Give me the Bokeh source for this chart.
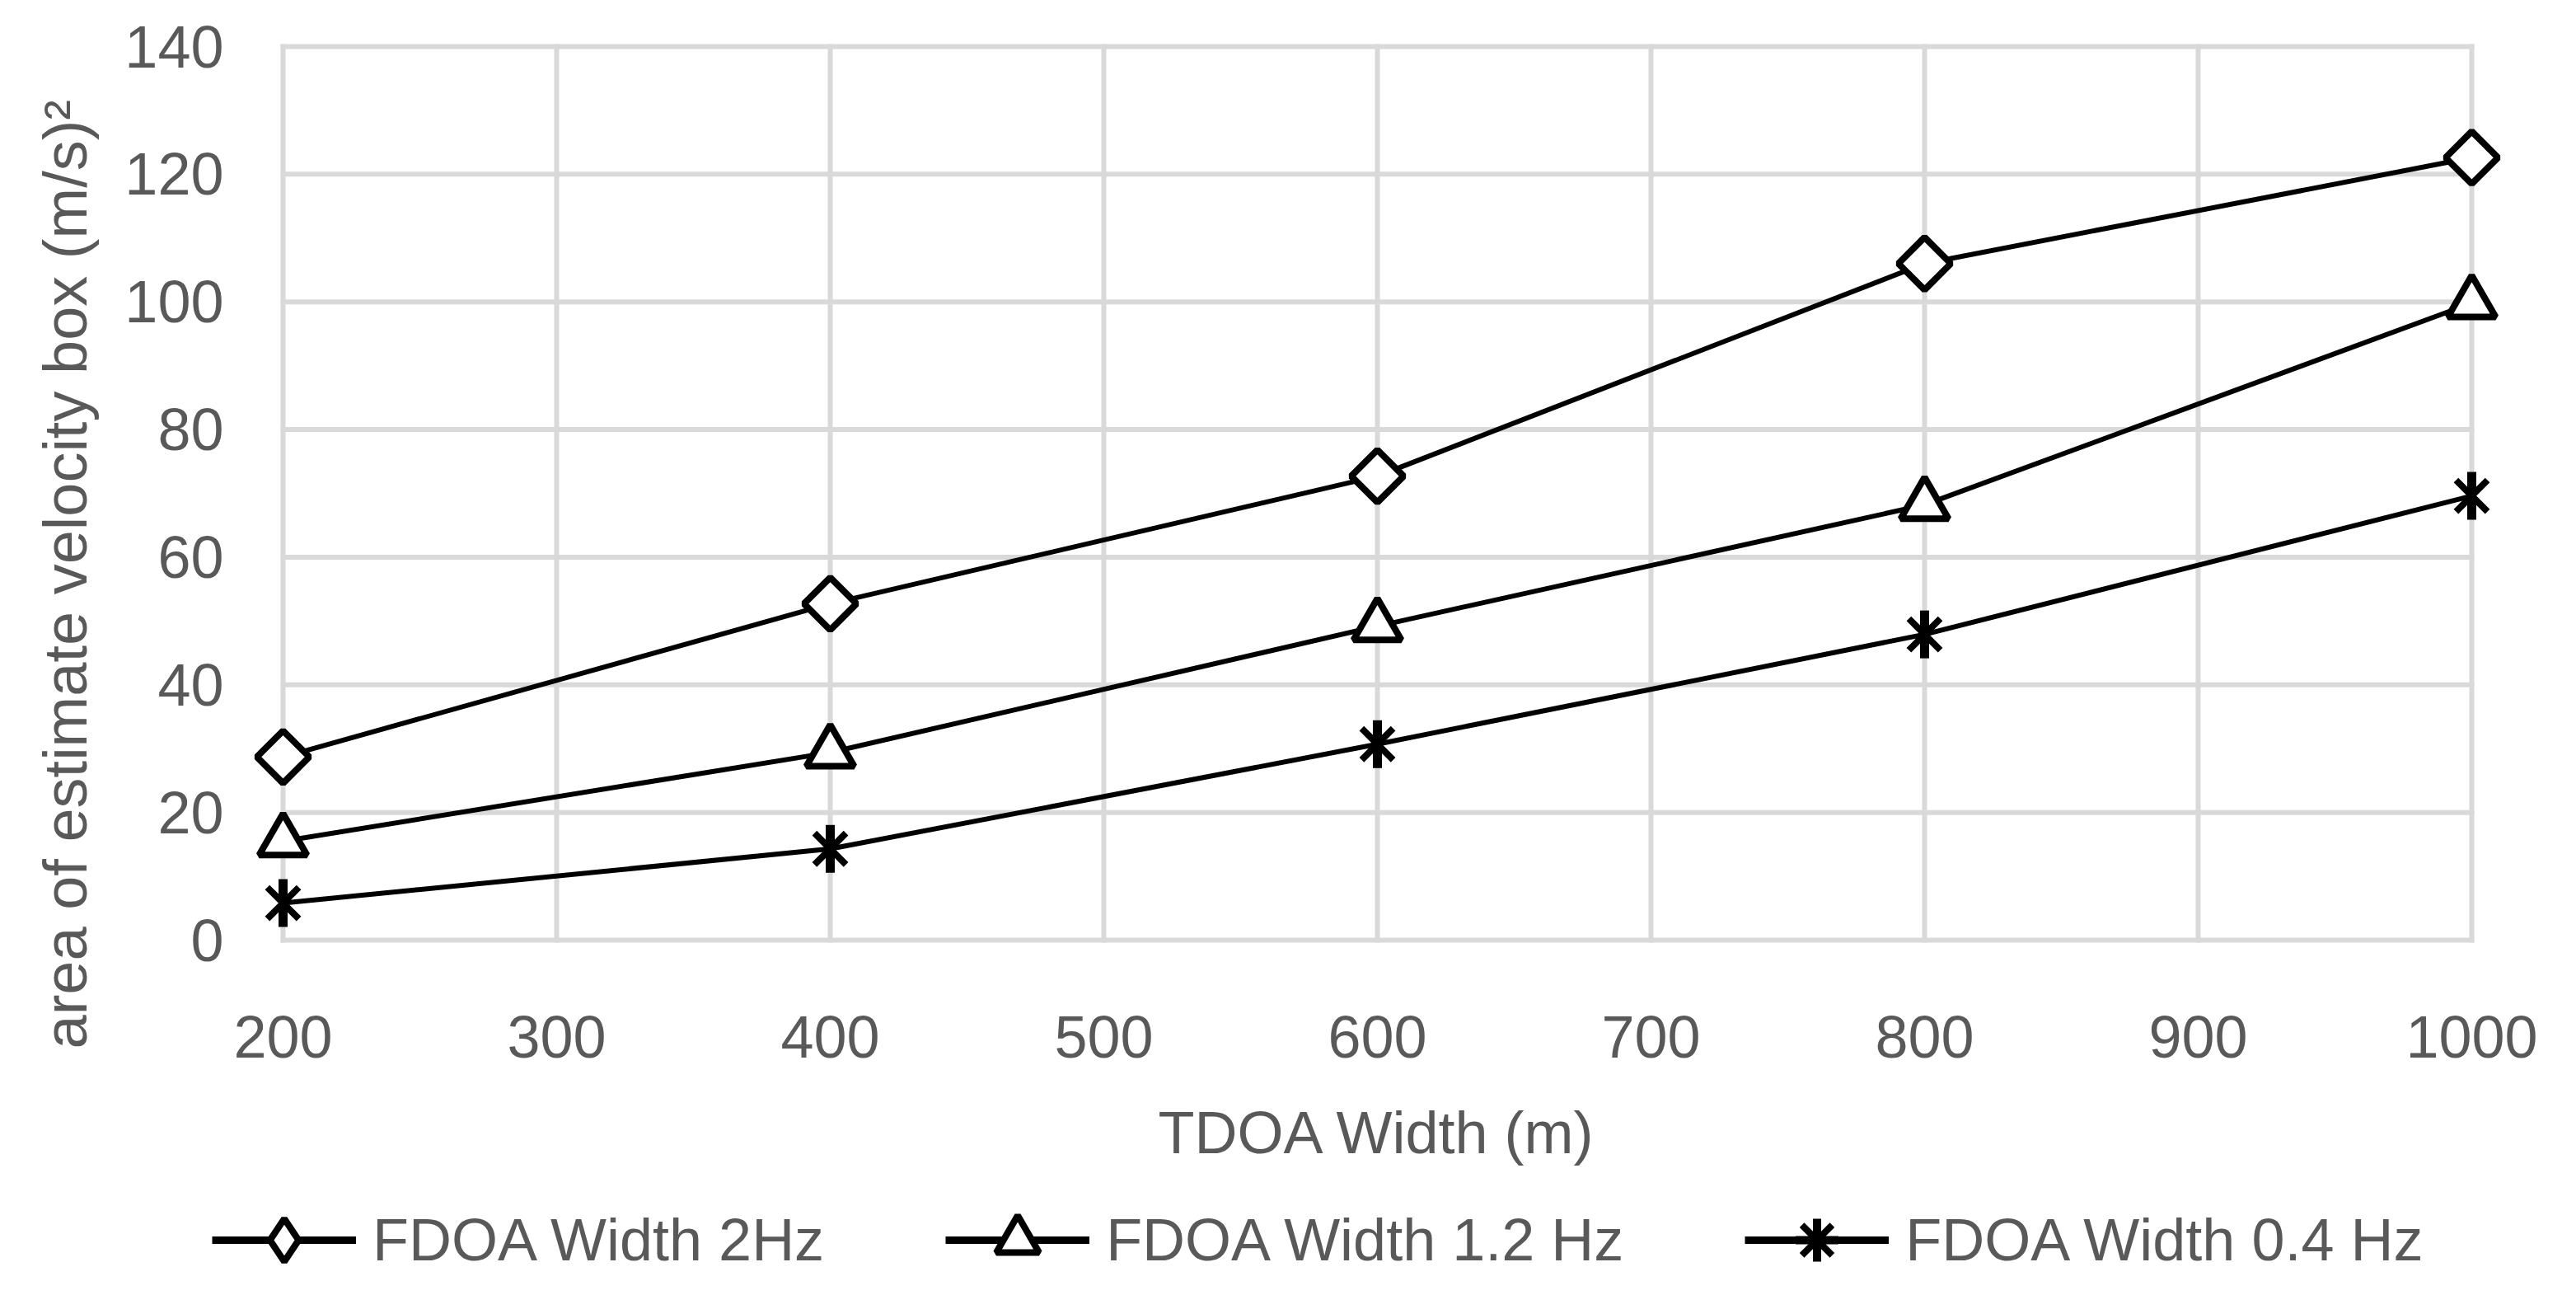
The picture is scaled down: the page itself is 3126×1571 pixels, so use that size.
import math
from bokeh.plotting import figure
from bokeh.layouts import column
from bokeh.models import Legend, LegendItem, Title, Range1d, FixedTicker
from bokeh.embed import file_html
from bokeh.resources import INLINE

# ---------------- data ----------------
tdoa_width = [200, 400, 600, 800, 1000]
fdoa_2hz = [28.7, 52.7, 72.7, 106.0, 122.6]
fdoa_1_2hz = [15.5, 29.4, 49.2, 68.2, 99.8]
fdoa_0_4hz = [5.8, 14.3, 30.7, 47.9, 69.6]
series_labels = ["FDOA Width 2Hz", "FDOA Width 1.2 Hz", "FDOA Width 0.4 Hz"]
x_ticks = [200, 300, 400, 500, 600, 700, 800, 900, 1000]
y_ticks = [0, 20, 40, 60, 80, 100, 120, 140]
x_title = "TDOA Width (m)"
y_title = "area of estimate velocity box (m/s)²"

# ---------------- style ----------------
FONT = "Liberation Sans"
TEXT = "#595959"
GRID = "#D9D9D9"
FS = "72px"

TOTAL_W = 3110
MAIN_H = 1452
LEG_H = 1555 - MAIN_H

# plot-area (gridded box) size in px and padding so end markers are not clipped
BOX_W, BOX_H = 2656, 1084
PAD_X, PAD_Y = 40, 4
FRAME_W, FRAME_H = BOX_W + 2 * PAD_X, BOX_H + 2 * PAD_Y
LEFT, TOP = 303, 52
RIGHT = TOTAL_W - LEFT - FRAME_W
BOTTOM = MAIN_H - TOP - FRAME_H

x_span = x_ticks[-1] - x_ticks[0]
y_span = y_ticks[-1] - y_ticks[0]
xpad = PAD_X * x_span / BOX_W
ypad = PAD_Y * y_span / BOX_H

p = figure(frame_width=FRAME_W, frame_height=FRAME_H,
           min_border_left=LEFT, min_border_right=RIGHT,
           min_border_top=TOP, min_border_bottom=BOTTOM,
           x_range=Range1d(x_ticks[0] - xpad, x_ticks[-1] + xpad),
           y_range=Range1d(y_ticks[0] - ypad, y_ticks[-1] + ypad),
           output_backend="svg", toolbar_location=None,
           background_fill_color="white", border_fill_color="white")

p.outline_line_color = None
p.xgrid.visible = False
p.ygrid.visible = False

for ax in (p.xaxis[0], p.yaxis[0]):
    ax.axis_line_color = None
    ax.major_tick_line_color = None
    ax.minor_tick_line_color = None
    ax.major_tick_out = 0
    ax.major_tick_in = 0
    ax.minor_tick_out = 0
    ax.major_label_text_font = FONT
    ax.major_label_text_font_size = FS
    ax.major_label_text_color = TEXT
    ax.axis_label_text_font = FONT
    ax.axis_label_text_font_size = FS
    ax.axis_label_text_color = TEXT
    ax.axis_label_text_font_style = "normal"

p.xaxis.ticker = FixedTicker(ticks=x_ticks)
p.yaxis.ticker = FixedTicker(ticks=y_ticks)
p.xaxis.major_label_standoff = 88
p.yaxis.major_label_standoff = 32
p.xaxis.axis_label = x_title
p.xaxis.axis_label_standoff = 48

# grid box drawn from the tick lists
p.segment(x0=x_ticks, x1=x_ticks, y0=[y_ticks[0]] * len(x_ticks), y1=[y_ticks[-1]] * len(x_ticks),
          line_color=GRID, line_width=6, line_cap="square")
p.segment(x0=[x_ticks[0]] * len(y_ticks), x1=[x_ticks[-1]] * len(y_ticks), y0=y_ticks, y1=y_ticks,
          line_color=GRID, line_width=6, line_cap="square")

# y-axis title as a side title (offset moves it along the axis)
ytitle = Title(text=y_title, align="left", offset=-128, standoff=56,
               text_font=FONT, text_font_size="74px", text_color=TEXT,
               text_font_style="normal")
p.add_layout(ytitle, "left")

LW = 6
MW = 8

# ---------------- series in the chart ----------------
p.line(tdoa_width, fdoa_2hz, line_color="black", line_width=LW, line_join="round")
p.scatter(tdoa_width, fdoa_2hz, marker="square", size=45, angle=math.pi / 4,
          fill_color="white", line_color="black", line_width=MW)
p.line(tdoa_width, fdoa_1_2hz, line_color="black", line_width=LW, line_join="round")
p.scatter(tdoa_width, fdoa_1_2hz, marker="triangle", size=58,
          fill_color="white", line_color="black", line_width=MW)
p.line(tdoa_width, fdoa_0_4hz, line_color="black", line_width=LW, line_join="round")
p.scatter(tdoa_width, fdoa_0_4hz, marker="x", size=54, line_color="black", line_width=MW)
p.scatter(tdoa_width, fdoa_0_4hz, marker="dash", size=58, angle=math.pi / 2,
          line_color="black", line_width=11)

# ---------------- legend strip below the chart ----------------
q = figure(frame_width=TOTAL_W, frame_height=LEG_H,
           min_border_left=0, min_border_right=0, min_border_top=0, min_border_bottom=0,
           x_range=Range1d(0, 1), y_range=Range1d(0, 1),
           output_backend="svg", toolbar_location=None,
           background_fill_color="white", border_fill_color="white")
q.axis.visible = False
q.grid.visible = False
q.outline_line_color = None

# legend swatches (series data lies outside this strip's ranges, so only the legend shows them)
LLW = 9
g1 = [q.line(tdoa_width, fdoa_2hz, line_color="black", line_width=LLW),
      q.scatter(tdoa_width, fdoa_2hz, marker="diamond", fill_color="white",
                line_color="black", line_width=8)]
g2 = [q.line(tdoa_width, fdoa_1_2hz, line_color="black", line_width=LLW),
      q.scatter(tdoa_width, fdoa_1_2hz, marker="triangle", fill_color="white",
                line_color="black", line_width=8)]
g3 = [q.line(tdoa_width, fdoa_0_4hz, line_color="black", line_width=LLW),
      q.scatter(tdoa_width, fdoa_0_4hz, marker="x", line_color="black", line_width=8),
      q.scatter(tdoa_width, fdoa_0_4hz, marker="cross", line_color="black", line_width=10)]

legend = Legend(items=[LegendItem(label=lab, renderers=rs)
                       for lab, rs in zip(series_labels, [g1, g2, g3])],
                orientation="horizontal", location=(257, -14),
                padding=0, margin=0, spacing=147, glyph_width=175, glyph_height=130,
                label_standoff=20, label_text_font=FONT, label_text_font_size=FS,
                label_text_color=TEXT, border_line_color=None, background_fill_alpha=0)
q.add_layout(legend, "center")

layout = column(p, q, spacing=0)
open("out.html", "w").write(file_html(layout, INLINE))
